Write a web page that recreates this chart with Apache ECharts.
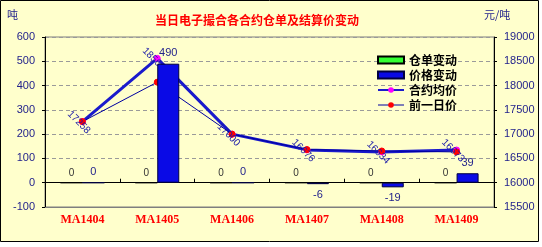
<!DOCTYPE html>
<html>
<head>
<meta charset="utf-8">
<script src="https://cdn.jsdelivr.net/npm/echarts@6/dist/echarts.min.js"></script>
<style>
html,body{margin:0;padding:0;background:#ffffff;}
#c{width:542px;height:247px;}
</style>
</head>
<body>
<div id="c"></div>
<script>
var categories = ['MA1404', 'MA1405', 'MA1406', 'MA1407', 'MA1408', 'MA1409'];
var warrantChange = [0, 0, 0, 0, 0, 0];
var priceChange = [0, 490, 0, -6, -19, 39];
var avgPrice = [17258, 18560, 17000, 16676, 16634, 16673];
var prevPrice = [17258, 18070, 17000, 16682, 16653, 16634];
var leftTicks = {min: -100, max: 600, interval: 100};
var rightTicks = {min: 15500, max: 19000, interval: 500};

var numFont = 'Liberation Sans';
var cjkFont = 'Noto Sans CJK SC';
var axisColor = '#23238c';

var chart = echarts.init(document.getElementById('c'), null, {renderer: 'canvas'});

var priceBarData = priceChange.map(function (v) {
  return {value: v, label: {position: v < 0 ? 'bottom' : 'top'}};
});

var plain = function (v) { return String(v); };

var option = {
  animation: false,
  backgroundColor: '#ffffff',
  graphic: [
    {type: 'rect', z: -10, shape: {x: 0.5, y: 0.5, width: 538, height: 241},
      style: {fill: '#ffffcc', stroke: '#000000', lineWidth: 1}},
    {type: 'text', left: 7, top: 9, style: {text: '吨', fill: axisColor, font: '11px "Noto Sans CJK SC"'}},
    {type: 'text', left: 484, top: 9, style: {text: '元/吨', fill: axisColor, font: '11px "Noto Sans CJK SC"'}}
  ],
  title: {
    text: '当日电子撮合各合约仓单及结算价变动',
    left: 155, top: 14, padding: 0,
    textStyle: {color: '#ff0000', fontSize: 12, fontWeight: 'bold', fontFamily: cjkFont}
  },
  legend: {
    orient: 'vertical',
    left: 377, top: 54,
    itemWidth: 26, itemHeight: 7,
    itemGap: 3,
    padding: 0,
    textStyle: {color: '#000000', fontSize: 12, fontWeight: 'bold', fontFamily: cjkFont},
    data: [
      {name: '仓单变动', icon: 'rect'},
      {name: '价格变动', icon: 'rect'},
      {name: '合约均价', lineStyle: {width: 2, color: '#1a1acc'}},
      {name: '前一日价', lineStyle: {width: 1, color: '#0000a0'}}
    ]
  },
  grid: {
    left: 45, right: 48, top: 37, bottom: 40,
    show: true, borderColor: '#7f7f7f', borderWidth: 1, backgroundColor: 'transparent'
  },
  xAxis: [
    {
      type: 'category', data: categories, position: 'bottom',
      axisLine: {onZero: false, lineStyle: {color: '#7f7f7f', width: 1}},
      axisTick: {show: false},
      axisLabel: {color: '#ff0000', fontWeight: 'bold', fontFamily: 'Liberation Serif', fontSize: 12, margin: 7}
    },
    {
      type: 'category', data: categories, position: 'top',
      axisLine: {onZero: true, onZeroAxisIndex: 0, lineStyle: {color: '#000000', width: 1}},
      axisTick: {show: true, inside: true, length: -4, lineStyle: {color: '#000000'}},
      axisLabel: {show: false}
    }
  ],
  yAxis: [
    {
      type: 'value', min: leftTicks.min, max: leftTicks.max, interval: leftTicks.interval,
      axisLine: {show: true, lineStyle: {color: '#000000'}},
      axisTick: {show: true, length: 3, lineStyle: {color: '#000000'}},
      axisLabel: {color: axisColor, fontFamily: numFont, fontSize: 11, margin: 10, formatter: plain},
      splitLine: {show: true, lineStyle: {color: '#9a9a9a', type: [4, 3], width: 1}}
    },
    {
      type: 'value', min: rightTicks.min, max: rightTicks.max, interval: rightTicks.interval,
      position: 'right',
      axisLine: {show: true, lineStyle: {color: '#000000'}},
      axisTick: {show: true, length: 3, lineStyle: {color: '#000000'}},
      axisLabel: {color: axisColor, fontFamily: numFont, fontSize: 11, margin: 10, formatter: plain},
      splitLine: {show: false}
    }
  ],
  series: [
    {
      name: '仓单变动', type: 'bar', xAxisIndex: 0, yAxisIndex: 0, z: 5,
      data: warrantChange,
      barWidth: 22, barGap: '0%',
      itemStyle: {color: '#33ff33', borderColor: '#000000', borderWidth: 1},
      label: {show: true, position: 'top', distance: 4, color: '#333333', fontFamily: numFont, fontSize: 10}
    },
    {
      name: '价格变动', type: 'bar', xAxisIndex: 0, yAxisIndex: 0, z: 5,
      data: priceBarData,
      barWidth: 22, barGap: '0%',
      itemStyle: {color: '#0a0ae6', borderColor: '#000040', borderWidth: 1},
      label: {show: true, distance: 5, color: axisColor, fontFamily: numFont, fontSize: 11}
    },
    {
      name: '合约均价', type: 'line', xAxisIndex: 0, yAxisIndex: 1, z: 3,
      data: avgPrice,
      symbol: 'circle', symbolSize: 6,
      lineStyle: {color: '#1a1acc', width: 3},
      itemStyle: {color: '#ff00ff', borderColor: '#ff00ff'},
      label: {show: true, position: 'inside', rotate: -45, offset: [-2, 3],
        color: '#1a1aa8', fontFamily: numFont, fontSize: 10}
    },
    {
      name: '前一日价', type: 'line', xAxisIndex: 0, yAxisIndex: 1, z: 3,
      data: prevPrice,
      symbol: 'circle', symbolSize: 6,
      lineStyle: {color: '#0000a0', width: 1},
      itemStyle: {color: '#ff0000', borderColor: '#ff0000'},
      label: {show: false}
    }
  ]
};
chart.setOption(option);
</script>
</body>
</html>
